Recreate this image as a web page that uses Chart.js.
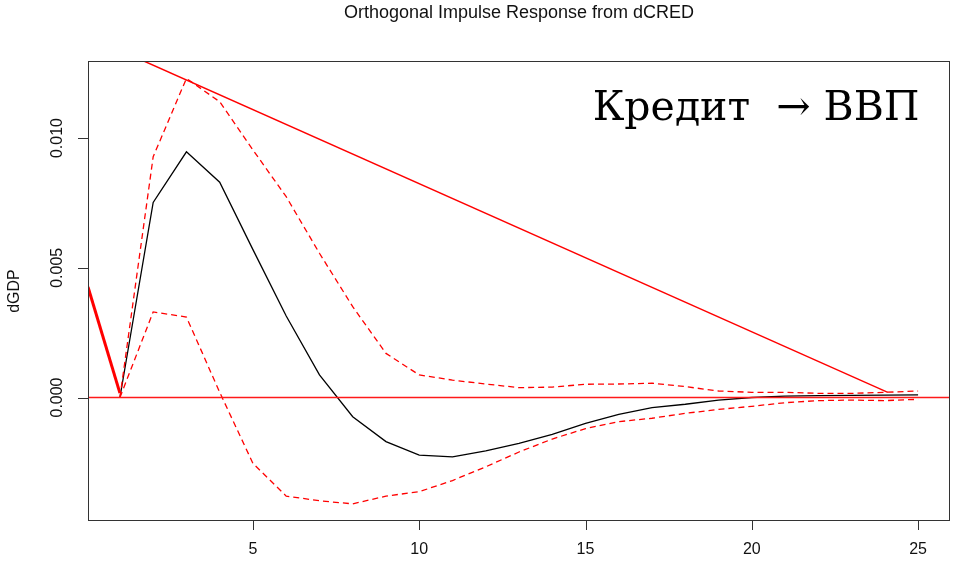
<!DOCTYPE html>
<html lang="ru">
<head>
<meta charset="utf-8">
<title>Orthogonal Impulse Response from dCRED</title>
<script src="https://cdn.jsdelivr.net/npm/chart.js@4.4.1/dist/chart.umd.min.js"></script>
<style>
  html, body { margin: 0; padding: 0; background: #fff; }
  canvas { display: block; }
</style>
</head>
<body>
<canvas id="chartIrf" width="953" height="564"></canvas>
<script>
// ── series ──
const LAGS  = [1, 2, 3, 4, 5, 6, 7, 8, 9, 10, 11, 12, 13, 14, 15, 16, 17, 18, 19, 20, 21, 22, 23, 24, 25];
const IRF   = [0, 0.00752, 0.00947, 0.0083, 0.0057, 0.00314, 0.00087, -0.00074, -0.0017, -0.00222, -0.00229, -0.00206, -0.00177,
               -0.00142, -0.001, -0.00065, -0.00039, -0.00026, -0.0001, 0, 0.00005, 0.00007, 0.00008, 0.00009, 0.0001];
const UPPER = [0, 0.00928, 0.0123, 0.0114, 0.00954, 0.00774, 0.00556, 0.0035, 0.0017, 0.00087, 0.00067, 0.00052, 0.00038,
               0.0004, 0.00051, 0.00052, 0.00055, 0.00042, 0.00025, 0.0002, 0.0002, 0.00016, 0.00016, 0.0002, 0.00025];
const LOWER = [0, 0.0033, 0.0031, 0.0002, -0.00254, -0.0038, -0.00398, -0.0041, -0.0038, -0.00363, -0.0032, -0.00267, -0.0021,
               -0.0016, -0.0012, -0.00093, -0.0008, -0.00061, -0.00046, -0.00034, -0.0002, -0.00012, -0.0001, -0.00012, -0.00007];

// ── axes ──
const X_TICKS = [5, 10, 15, 20, 25];
const Y_TICKS = [0, 0.005, 0.01];
const X_RANGE = [0.04, 25.96];
const Y_RANGE = [-0.00476, 0.01297];

// straight red strokes over the plot, [x, y] pairs
const ZERO_LINE  = [[0.04, 0], [25.96, 0]];
const SHORT_LINE = [[0.04, 0.00426], [1, 0.00017]];
const LONG_LINE  = [[1.72, 0.01297], [24.09, 0.0002]];

const TITLE   = 'Orthogonal Impulse Response from dCRED';
const Y_LABEL = 'dGDP';
const CAPTION = 'Кредит  → ВВП';
const CAPTION_AT = [20.13, 0.0107];

const pts = (xs, ys) => xs.map((x, i) => ({ x, y: ys[i] }));
const seg = arr => arr.map(p => ({ x: p[0], y: p[1] }));

// R-style frame: box, ticks, rotated y labels, titles
const rFrame = {
  id: 'rFrame',
  afterDraw(chart) {
    const { ctx, chartArea: a, scales: { x, y } } = chart;
    ctx.save();
    ctx.strokeStyle = '#333';
    ctx.lineWidth = 1;
    ctx.strokeRect(a.left + 0.5, a.top + 0.5, a.right - a.left - 1, a.bottom - a.top - 1);

    ctx.fillStyle = '#111';
    ctx.font = '16px "Liberation Sans", Arial, sans-serif';

    // x axis
    ctx.beginPath();
    X_TICKS.forEach(v => {
      const px = Math.round(x.getPixelForValue(v)) + 0.5;
      ctx.moveTo(px, a.bottom);
      ctx.lineTo(px, a.bottom + 9);
    });
    ctx.stroke();
    ctx.textAlign = 'center';
    ctx.textBaseline = 'middle';
    X_TICKS.forEach(v => ctx.fillText(String(v), x.getPixelForValue(v), a.bottom + 29));

    // y axis
    ctx.beginPath();
    Y_TICKS.forEach(v => {
      const py = Math.round(y.getPixelForValue(v)) + 0.5;
      ctx.moveTo(a.left - 10, py);
      ctx.lineTo(a.left, py);
    });
    ctx.stroke();
    Y_TICKS.forEach(v => {
      ctx.save();
      ctx.translate(a.left - 30, y.getPixelForValue(v));
      ctx.rotate(-Math.PI / 2);
      ctx.fillText(v.toFixed(3), 0, 0);
      ctx.restore();
    });

    ctx.save();
    ctx.translate(15, (a.top + a.bottom) / 2);
    ctx.rotate(-Math.PI / 2);
    ctx.fillText(Y_LABEL, 0, 0);
    ctx.restore();

    ctx.font = '18px "Liberation Sans", Arial, sans-serif';
    ctx.fillText(TITLE, (a.left + a.right) / 2, 13);

    ctx.font = '41px "DejaVu Serif", serif';
    ctx.fillStyle = '#000';
    ctx.textBaseline = 'alphabetic';
    ctx.fillText(CAPTION, x.getPixelForValue(CAPTION_AT[0]), y.getPixelForValue(CAPTION_AT[1]));
    ctx.restore();
  }
};

// order 0 is painted last, so the red strokes sit on top
const line = (data, color, width, dash, order) => ({
  data, borderColor: color, borderWidth: width, borderDash: dash || [],
  pointRadius: 0, tension: 0, fill: false, order: order || 0
});

new Chart(document.getElementById('chartIrf'), {
  type: 'line',
  data: {
    datasets: [
      line(pts(LAGS, IRF), '#000000', 1.3, null, 2),
      line(pts(LAGS, UPPER), '#ff0000', 1.3, [6, 4], 1),
      line(pts(LAGS, LOWER), '#ff0000', 1.3, [6, 4], 1),
      line(seg(ZERO_LINE), '#ff1a1a', 1.3),
      line(seg(SHORT_LINE), '#ff0000', 3),
      line(seg(LONG_LINE), '#ff0000', 1.4)
    ]
  },
  options: {
    responsive: false,
    animation: false,
    devicePixelRatio: 1,
    layout: { padding: { left: 88, top: 61, right: 3, bottom: 43 } },
    plugins: { legend: { display: false }, tooltip: { enabled: false }, title: { display: false } },
    scales: {
      x: { type: 'linear', min: X_RANGE[0], max: X_RANGE[1], display: false },
      y: { type: 'linear', min: Y_RANGE[0], max: Y_RANGE[1], display: false }
    }
  },
  plugins: [rFrame]
});
</script>
</body>
</html>
